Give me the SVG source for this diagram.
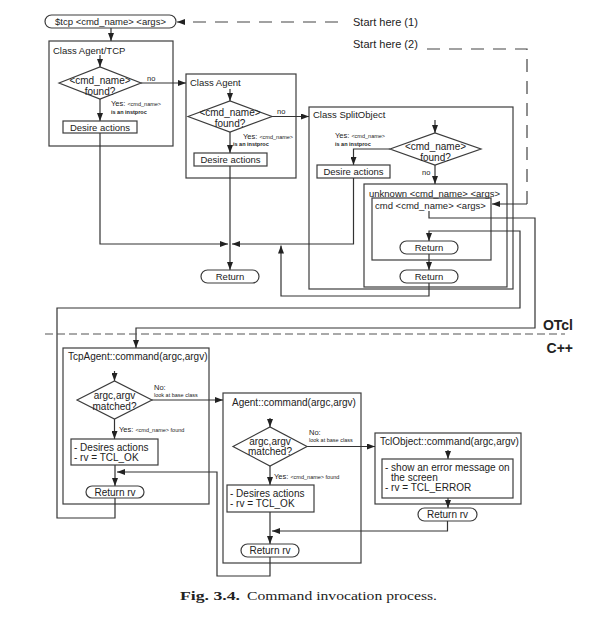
<svg xmlns="http://www.w3.org/2000/svg" width="599" height="630" viewBox="0 0 599 630">
<defs>
<marker id="ah" markerWidth="8" markerHeight="6" refX="8" refY="3" orient="auto" markerUnits="userSpaceOnUse"><path d="M0,0 L8,3 L0,6 z" fill="#222"/></marker>
</defs>
<style>
.bx{fill:none;stroke:#3c3c3c;stroke-width:1.2}
.nd{fill:#fff;stroke:#3c3c3c;stroke-width:1.2}
.ln{fill:none;stroke:#333;stroke-width:1.2}
.ar{marker-end:url(#ah)}
.dash{fill:none;stroke:#444;stroke-width:1.2;stroke-dasharray:13 9}
.sep{fill:none;stroke:#555;stroke-width:1.2;stroke-dasharray:8 4}
text{font-family:"Liberation Sans",Arial,sans-serif;fill:#222}
.t{font-size:9.5px}
.t2{font-size:10px}
.c{text-anchor:middle}
.s{font-size:7.5px}
.xs{font-size:5.5px}
.b{font-weight:bold}
.big{font-size:11px}
.lay{font-size:14px;font-weight:bold;text-anchor:end}
.cap{font-family:"Liberation Serif","Times New Roman",serif;font-size:13px}
</style>
<rect width="599" height="630" fill="#fff"/>

<!-- containers -->
<g id="class-agent-tcp"><rect class="bx" x="49" y="41" width="124" height="105"/><text class="t" x="53" y="53.5">Class Agent/TCP</text></g>
<g id="class-agent"><rect class="bx" x="186" y="74" width="110" height="104"/><text class="t" x="190" y="85.5">Class Agent</text></g>
<g id="class-splitobject"><rect class="bx" x="309" y="107" width="204" height="182"/><text class="t" x="313" y="117.5">Class SplitObject</text></g>
<g id="unknown"><rect class="bx" x="364" y="184" width="143" height="103"/><text class="t" x="369" y="196.5">unknown &lt;cmd_name&gt; &lt;args&gt;</text></g>
<g id="cmd"><rect class="bx" x="372" y="198" width="119" height="62"/><text class="t" x="375" y="209">cmd &lt;cmd_name&gt; &lt;args&gt;</text></g>
<g id="tcpagent-command"><rect class="bx" x="63" y="348" width="146" height="156"/><text class="t2" x="68" y="359.5">TcpAgent::command(argc,argv)</text></g>
<g id="agent-command"><rect class="bx" x="223" y="393" width="138" height="170"/><text class="t2" x="232" y="405.5">Agent::command(argc,argv)</text></g>
<g id="tclobject-command"><rect class="bx" x="375" y="433" width="146" height="71"/><text class="t2" x="380" y="444.5">TclObject::command(argc,argv)</text></g>

<!-- connectors -->
<g id="connectors">
<path class="ln ar" d="M111,28 V41"/>
<path class="ln ar" d="M100,55 V67"/>
<path class="ln ar" d="M141,83 H186"/>
<path class="ln ar" d="M100,99 V121"/>
<path class="ln ar" d="M100,133 V244 H228"/>
<path class="ln ar" d="M230,89 V101"/>
<path class="ln ar" d="M272,116.5 H309"/>
<path class="ln ar" d="M230,132 V153"/>
<path class="ln ar" d="M230,166 V270"/>
<path class="ln ar" d="M435,120 V133"/>
<path class="ln ar" d="M390,149 H353.5 V165"/>
<path class="ln ar" d="M353.5,178 V244 H232"/>
<path class="ln ar" d="M435,165 V184"/>
<path class="ln ar" d="M429,254 V270"/>
<path class="ln ar" d="M429,283 V296 H281 V245.5"/>
<path class="ln ar" d="M429,211 V218 H535 V328 H136 V348"/>
<path class="ln ar" d="M115,498 V518 H57 V308 H520 V231 H429 V241"/>
<path class="dash ar" d="M338,22 H177"/>
<path class="dash" d="M427,49 H527 V204"/>
<path class="ln ar" d="M527,204 H492"/>
<path class="ln ar" d="M114.5,371 V381"/>
<path class="ln ar" d="M152,400 H223"/>
<path class="ln ar" d="M114.5,419 V439"/>
<path class="ln ar" d="M115,465 V486"/>
<path class="ln ar" d="M270,557 V576 H217 V472 H117"/>
<path class="ln ar" d="M270,418 V427"/>
<path class="ln ar" d="M307,446.5 H375"/>
<path class="ln ar" d="M270,466 V485"/>
<path class="ln ar" d="M270,512 V544"/>
<path class="ln ar" d="M447.5,521 V531 H272"/>
<path class="ln ar" d="M448,450 V459"/>
<path class="ln ar" d="M448,498 V508"/>
<path class="sep" d="M45,334 H565"/>
</g>

<!-- labels on connectors -->
<g id="labels">
<text class="big" x="353" y="26">Start here (1)</text>
<text class="big" x="353" y="48">Start here (2)</text>
<text class="s" x="147" y="81">no</text>
<text x="111" y="105.5"><tspan class="s">Yes: </tspan><tspan class="xs">&lt;cmd_name&gt;</tspan></text>
<text class="xs b" x="111" y="113.5">is an instproc</text>
<text class="s" x="277" y="114">no</text>
<text x="243" y="138.5"><tspan class="s">Yes: </tspan><tspan class="xs">&lt;cmd_name&gt;</tspan></text>
<text class="xs b" x="233" y="145.5">is an instproc</text>
<text x="335" y="137.5"><tspan class="s">Yes: </tspan><tspan class="xs">&lt;cmd_name&gt;</tspan></text>
<text class="xs b" x="335" y="145.5">is an instproc</text>
<text class="s" x="422" y="174.5">no</text>
<text class="s" x="154" y="389.5">No:</text>
<text class="xs" x="154" y="397">look at base class</text>
<text x="119" y="431.5"><tspan class="s">Yes: </tspan><tspan class="xs">&lt;cmd_name&gt; found</tspan></text>
<text class="s" x="309" y="434.5">No:</text>
<text class="xs" x="309" y="442">look at base class</text>
<text x="274" y="478.5"><tspan class="s">Yes: </tspan><tspan class="xs">&lt;cmd_name&gt; found</tspan></text>
<text class="lay" x="573" y="330">OTcl</text>
<text class="lay" x="573" y="353">C++</text>
</g>

<!-- nodes -->
<g id="start"><rect class="nd" x="45" y="15" width="131" height="13" rx="6.5"/><text class="t c" x="110.5" y="25">$tcp &lt;cmd_name&gt; &lt;args&gt;</text></g>
<g id="tcp-found"><polygon class="nd" points="59,83 100,67 141,83 100,99"/><text class="t2 c" x="100" y="83.5">&lt;cmd_name&gt;</text><text class="t2 c" x="100" y="94.5">found?</text></g>
<g id="tcp-desire"><rect class="nd" x="63" y="121" width="74" height="12"/><text class="t c" x="100" y="130.5">Desire actions</text></g>
<g id="agent-found"><polygon class="nd" points="188,116.5 230,101 272,116.5 230,132"/><text class="t2 c" x="230" y="115.5">&lt;cmd_name&gt;</text><text class="t2 c" x="230" y="126.5">found?</text></g>
<g id="agent-desire"><rect class="nd" x="194" y="153" width="73" height="13"/><text class="t c" x="230.5" y="163">Desire actions</text></g>
<g id="split-found"><polygon class="nd" points="390,149 435,133 481,149 435,165"/><text class="t2 c" x="435.5" y="149.5">&lt;cmd_name&gt;</text><text class="t2 c" x="435.5" y="160.5">found?</text></g>
<g id="split-desire"><rect class="nd" x="317" y="165" width="73" height="13"/><text class="t c" x="353.5" y="175">Desire actions</text></g>
<g id="return-inner"><rect class="nd" x="400" y="241" width="58" height="13" rx="6.5"/><text class="t c" x="429" y="251">Return</text></g>
<g id="return-outer"><rect class="nd" x="400" y="270" width="58" height="13" rx="6.5"/><text class="t c" x="429" y="280">Return</text></g>
<g id="return-main"><rect class="nd" x="201" y="270" width="58" height="13" rx="6.5"/><text class="t c" x="230" y="280">Return</text></g>
<g id="tcpagent-matched"><polygon class="nd" points="77,400 114.5,381 152,400 114.5,419"/><text class="t2 c" x="114.5" y="398.5">argc,argv</text><text class="t2 c" x="114.5" y="409.5">matched?</text></g>
<g id="tcpagent-actions"><rect class="nd" x="71" y="439" width="87" height="26"/><text class="t2" x="74" y="450.5">- Desires actions</text><text class="t2" x="74" y="460.5">- rv = TCL_OK</text></g>
<g id="tcpagent-return"><rect class="nd" x="86" y="486" width="58" height="12" rx="6"/><text class="t2 c" x="115" y="495.5">Return rv</text></g>
<g id="agent-matched"><polygon class="nd" points="233,446.5 270,427 307,446.5 270,466"/><text class="t2 c" x="270" y="444.5">argc,argv</text><text class="t2 c" x="270" y="454.5">matched?</text></g>
<g id="agent-actions"><rect class="nd" x="227" y="485" width="87" height="27"/><text class="t2" x="230" y="496.5">- Desires actions</text><text class="t2" x="230" y="506.5">- rv = TCL_OK</text></g>
<g id="agent-return"><rect class="nd" x="241" y="544" width="58" height="13" rx="6.5"/><text class="t2 c" x="270" y="554">Return rv</text></g>
<g id="tclobject-error"><rect class="nd" x="382" y="459" width="131" height="39"/><text class="t2" x="385" y="470.5">- show an error message on</text><text class="t2" x="391" y="480.5">the screen</text><text class="t2" x="385" y="490.5">- rv = TCL_ERROR</text></g>
<g id="tclobject-return"><rect class="nd" x="418" y="508" width="59" height="13" rx="6.5"/><text class="t2 c" x="447.5" y="518">Return rv</text></g>

<!-- caption -->
<text class="cap b" x="180" y="600" textLength="60" lengthAdjust="spacingAndGlyphs">Fig. 3.4.</text>
<text class="cap" x="247" y="600" textLength="190" lengthAdjust="spacingAndGlyphs">Command invocation process.</text>
</svg>
